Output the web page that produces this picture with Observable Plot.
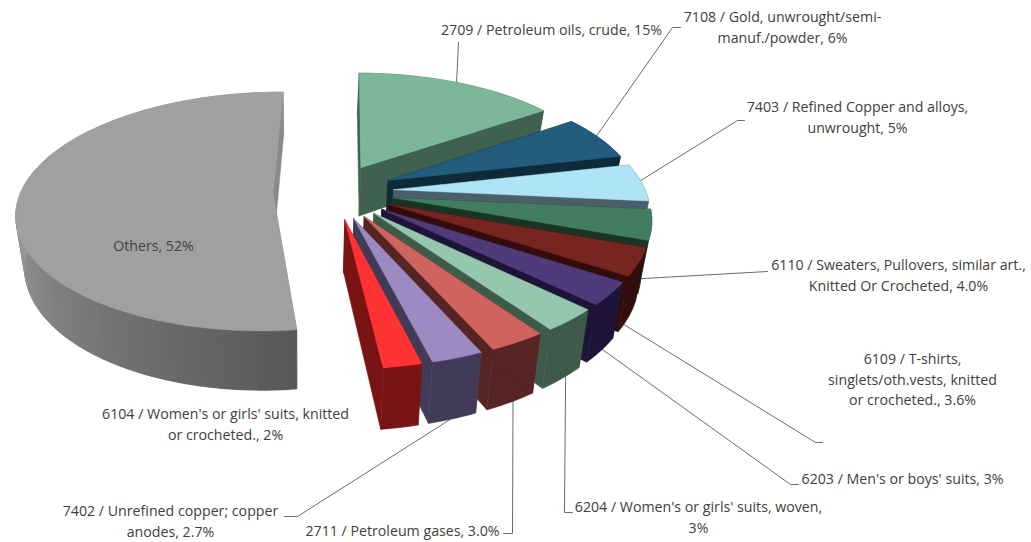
<!DOCTYPE html>
<html>
<head>
<meta charset="utf-8">
<script src="https://cdn.jsdelivr.net/npm/d3@7"></script>
<script src="https://cdn.jsdelivr.net/npm/@observablehq/plot@0.6"></script>
<style>
  html, body { margin: 0; padding: 0; background: #fff; }
  svg { display: block; }
</style>
</head>
<body>
<div id="chart"></div>
<script>
// Export shares by product, clockwise from the twelve o'clock position.
const products = [
  "2709 / Petroleum oils, crude",
  "7108 / Gold, unwrought/semi-manuf./powder",
  "7403 / Refined Copper and alloys, unwrought",
  "6110 / Sweaters, Pullovers, similar art., Knitted Or Crocheted",
  "6109 / T-shirts, singlets/oth.vests, knitted or crocheted.",
  "6203 / Men's or boys' suits",
  "6204 / Women's or girls' suits, woven",
  "2711 / Petroleum gases",
  "7402 / Unrefined copper; copper anodes",
  "6104 / Women's or girls' suits, knitted or crocheted.",
  "Others"
];
const shares = [15, 6, 5, 4.0, 3.6, 3, 3, 3.0, 2.7, 2, 52];
const topColors = ["#7cb69b", "#225d7e", "#aee4f5", "#437d60", "#762521", "#503a79", "#95c6ae", "#cf645f", "#9d8ac3", "#ff3333", "#a0a0a0"];
const wallColors = ["#40614f", "#0f2a39", "#4a5f69", "#1a3325", "#330d0b", "#1e1437", "#3e5a4a", "#562523", "#423b58", "#7a1414", "#8a8a8a"];

// Label text, one entry per slice, in the slice order above.
const labelLines = [
  ["2709 / Petroleum oils, crude, 15%"],
  ["7108 / Gold, unwrought/semi-", "manuf./powder, 6%"],
  ["7403 / Refined Copper and alloys,", "unwrought, 5%"],
  ["6110 / Sweaters, Pullovers, similar art.,", "Knitted Or Crocheted, 4.0%"],
  ["6109 / T-shirts,", "singlets/oth.vests, knitted", "or crocheted., 3.6%"],
  ["6203 / Men's or boys' suits, 3%"],
  ["6204 / Women's or girls' suits, woven,", "3%"],
  ["2711 / Petroleum gases, 3.0%"],
  ["7402 / Unrefined copper; copper", "anodes, 2.7%"],
  ["6104 / Women's or girls' suits, knitted", "or crocheted., 2%"],
  ["Others, 52%"]
];

// Placement of each label block: centre x and the y of its first line.
const labelPlacement = [
  [551, 30], [782, 17], [857, 107], [898, 265], [912, 359], [902, 479],
  [698, 507], [402, 531], [170, 511], [225, 414], [153, 246]
];
const lineStep = 20.5;

// Leader lines: where along the slice's rim each starts, and the points it then runs through.
const leaders = [
  {slice: 0, along: 0.49, z: 0, via: [[458, 42]]},
  {slice: 1, along: 0.45, z: 0, via: [[672, 27], [680, 27]]},
  {slice: 2, along: 0.45, z: 0, via: [[737, 120], [744, 120]]},
  {slice: 3, along: 0.55, z: 1, via: [[767, 271]]},
  {slice: 4, along: 0.75, z: 1, via: [[815, 442], [822, 442]]},
  {slice: 5, along: 0.45, z: 1, via: [[790, 484], [798, 484]]},
  {slice: 6, along: 0.40, z: 1, via: [[564, 512], [572, 512]]},
  {slice: 7, along: 0.45, z: 1, via: [[512, 533], [503, 533]]},
  {slice: 8, along: 0.55, z: 1, via: [[297, 516], [284, 516]]}
];

// Perspective view of the tilted pie: ground unit circle to page position.
const view = {cx: 333, cy: 191, a: 252, b: 116, k: 0.155, depth: 50, lean: 0.031, leanX: 300, explode: 0.24, turn: 0.5};
function project(X, Y, z) {
  const w = 1 - view.k * Y;
  const x = view.cx + view.a * X / w;
  const y = view.cy + view.b * Y / w;
  return z ? [x - (x - view.leanX) * view.lean, y + view.depth / w] : [x, y];
}

const rad = (deg) => deg * Math.PI / 180;

// "Others" takes its stated share of the circle; the named products divide the remainder.
const othersIndex = shares.length - 1;
const othersSweep = shares[othersIndex] * 3.6;
const namedTotal = d3.sum(shares) - shares[othersIndex];
let running = view.turn;
const slices = shares.map((s, i) => {
  const sweep = i === othersIndex ? othersSweep : s / namedTotal * (360 - othersSweep);
  const start = running;
  const end = (running += sweep);
  const mid = rad((start + end) / 2);
  return {i, start, end, ox: view.explode * Math.sin(mid), oy: -view.explode * Math.cos(mid)};
});
const rimPoint = (s, deg, z) => project(s.ox + Math.sin(rad(deg)), s.oy - Math.cos(rad(deg)), z);
const apexPoint = (s, z) => project(s.ox, s.oy, z);

// Polygon vertices, pushed in drawing order: furthest slice first.
const polygons = [];
let polyId = 0;
function addPolygon(points, color) {
  const id = polyId++;
  for (const [x, y] of [...points, points[0]]) polygons.push({id, x, y, color});
}
const othersRim = d3.interpolateRgb("#575757", "#9c9c9c");
const paintOrder = [othersIndex, 0, 1, 2, 3, 4, 5, 6, 7, 8, 9];
for (const i of paintOrder) {
  const s = slices[i];
  const wall = wallColors[i];
  const steps = Math.max(4, Math.round((s.end - s.start) / 1.5));
  const degs = d3.range(steps + 1).map((k) => s.start + (s.end - s.start) * k / steps);
  const startWall = [apexPoint(s, 0), rimPoint(s, s.start, 0), rimPoint(s, s.start, 1), apexPoint(s, 1)];
  const endWall = [apexPoint(s, 0), rimPoint(s, s.end, 0), rimPoint(s, s.end, 1), apexPoint(s, 1)];
  if (i === othersIndex) {
    // The large slice's rim shades from dark to light; each band runs under the next to hide seams.
    addPolygon(startWall, wall);
    degs.slice(1).forEach((deg, k) => {
      const prev = degs[k];
      const next = degs[Math.min(k + 2, steps)];
      const color = othersRim(Math.min(1, (deg - s.start) / 95));
      addPolygon([rimPoint(s, prev, 0), rimPoint(s, next, 0), rimPoint(s, next, 1), rimPoint(s, prev, 1)], color);
    });
  } else {
    addPolygon([...degs.map((deg) => rimPoint(s, deg, 0)), ...degs.slice().reverse().map((deg) => rimPoint(s, deg, 1))], wall);
    addPolygon(startWall, wall);
  }
  addPolygon(endWall, wall);
  addPolygon([apexPoint(s, 0), ...degs.map((deg) => rimPoint(s, deg, 0))], topColors[i]);
}

const leaderRows = leaders.flatMap((l, n) => {
  const s = slices[l.slice];
  const first = rimPoint(s, s.start + (s.end - s.start) * l.along, l.z);
  return [first, ...l.via].map(([x, y]) => ({n, x, y}));
});

const labelRows = labelLines.flatMap((lines, i) =>
  lines.map((text, j) => ({text, x: labelPlacement[i][0], y: labelPlacement[i][1] + j * lineStep}))
);

const chart = Plot.plot({
  width: 1031,
  height: 542,
  margin: 0,
  style: {background: "#fff"},
  x: {domain: [0, 1031], range: [0, 1031], axis: null},
  y: {domain: [0, 542], range: [0, 542], axis: null},
  color: {type: "identity"},
  marks: [
    Plot.line(leaderRows, {x: "x", y: "y", z: "n", stroke: "#6a6a6a", strokeWidth: 1}),
    Plot.line(polygons, {x: "x", y: "y", z: "id", fill: "color", stroke: "color", strokeWidth: 0.5, strokeLinejoin: "round"}),
    Plot.text(labelRows, {
      x: "x", y: "y", text: "text",
      fontFamily: "'Open Sans'", fontSize: 14.2, fill: "#404040"
    })
  ]
});
document.getElementById("chart").append(chart);
</script>
</body>
</html>
